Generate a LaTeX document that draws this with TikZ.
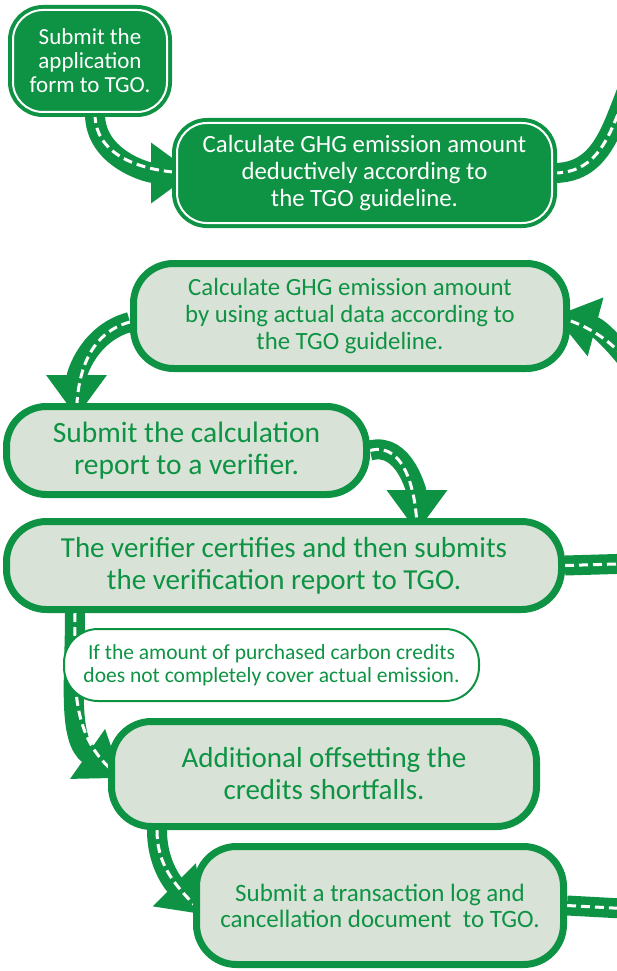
\documentclass[tikz,border=0pt]{standalone}
\usepackage{fontspec}
\setmainfont{Carlito}
\usetikzlibrary{arrows.meta,positioning}

\definecolor{tgogreen}{RGB}{14,147,68}
\definecolor{tgolight}{RGB}{217,226,214}

\pgfdeclarelayer{bg}
\pgfsetlayers{bg,main}

\tikzset{
  darkbox/.style={rounded corners=30pt, fill=tgogreen, draw=tgogreen, line width=4pt,
    double=white, double distance=2pt, text=white, align=center, inner sep=0pt},
  lightbox/.style={rounded corners=40pt, fill=tgolight, draw=tgogreen, line width=7pt,
    text=tgogreen, align=center, inner sep=0pt},
  notebox/.style={rounded corners=34pt, fill=white, draw=tgogreen, line width=2pt,
    text=tgogreen, align=center, inner sep=0pt},
  road/.style={draw=tgogreen, line width=20pt},
  roadline/.style={draw=white, line width=3pt, dash pattern=on 9pt off 5pt},
  roadtip/.style={-{Triangle[width=58pt,length=42pt]}}
}

% road connector: green band plus white dashed middle line
\newcommand{\roadpath}[2][]{%
  \draw[road,#1] #2;
  \draw[roadline] #2;
}

\begin{document}
\begin{tikzpicture}[x=1pt,y=1pt]
\useasboundingbox (0,0) rectangle (617,-971);

% Steps
\node[darkbox, minimum width=154pt, minimum height=102pt, font=\fontsize{23}{24}\selectfont]
  (app) at (90,-61) {Submit the\\application\\form to TGO.};
\node[darkbox, minimum width=375pt, minimum height=100pt, font=\fontsize{24.8}{27}\selectfont]
  (deduct) at (364.5,-173) {Calculate GHG emission amount\\deductively according to\\the TGO guideline.};
\node[lightbox, minimum width=433pt, minimum height=105pt, font=\fontsize{24.8}{27}\selectfont]
  (actual) at (350,-316) {Calculate GHG emission amount\\by using actual data according to\\the TGO guideline.};
\node[lightbox, minimum width=360pt, minimum height=88pt, font=\fontsize{29.5}{32}\selectfont]
  (calc) at (186.5,-450.5) {Submit the calculation\\report to a verifier.};
\node[lightbox, minimum width=555pt, minimum height=88pt, font=\fontsize{29}{32}\selectfont]
  (verif) at (284,-565.5) {The verifier certifies and then submits\\the verification report to TGO.};
\node[notebox, minimum width=415pt, minimum height=72pt, font=\fontsize{21.5}{23}\selectfont]
  (note) at (271.5,-665) {If the amount of purchased carbon credits\\does not completely cover actual emission.};
\node[lightbox, minimum width=425pt, minimum height=105pt, font=\fontsize{29}{32}\selectfont]
  (addl) at (324,-774) {Additional offsetting the\\credits shortfalls.};
\node[lightbox, minimum width=367pt, minimum height=118pt, font=\fontsize{25}{26}\selectfont]
  (trans) at (380,-905.5) {Submit a transaction log and\\cancellation document~ to TGO.};

% Open road ends
\coordinate (outB) at (650,-45);
\coordinate (inC) at (650,-390);
\coordinate (outF) at (650,-563);
\coordinate (outI) at (650,-910);

% Roads behind the boxes
\begin{pgfonlayer}{bg}
\roadpath[roadtip]{([xshift=5pt]app.south) to[out=-90,in=180] ([xshift=18pt]deduct.west)}
\roadpath{(deduct.east) to[out=0,in=235] (outB)}
\roadpath[roadtip]{(inC) to[out=125,in=-15] ([xshift=-15pt]actual.east)}
\roadpath[roadtip]{([yshift=-6pt]actual.west) to[out=195,in=90] ([xshift=-110pt,yshift=-14pt]calc.north)}
\roadpath[roadtip]{(calc.east) to[out=15,in=90] ([xshift=133pt,yshift=-14pt]verif.north)}
\roadpath{(verif.east) -- (outF)}
\roadpath[roadtip]{([xshift=-209pt]verif.south) to[out=-90,in=145] ([xshift=14pt,yshift=-4pt]addl.west)}
\roadpath[roadtip]{([xshift=-167pt]addl.south) to[out=-90,in=135] ([xshift=11pt,yshift=-9pt]trans.west)}
\roadpath{(trans.east) -- (outI)}
\end{pgfonlayer}
\end{tikzpicture}
\end{document}
